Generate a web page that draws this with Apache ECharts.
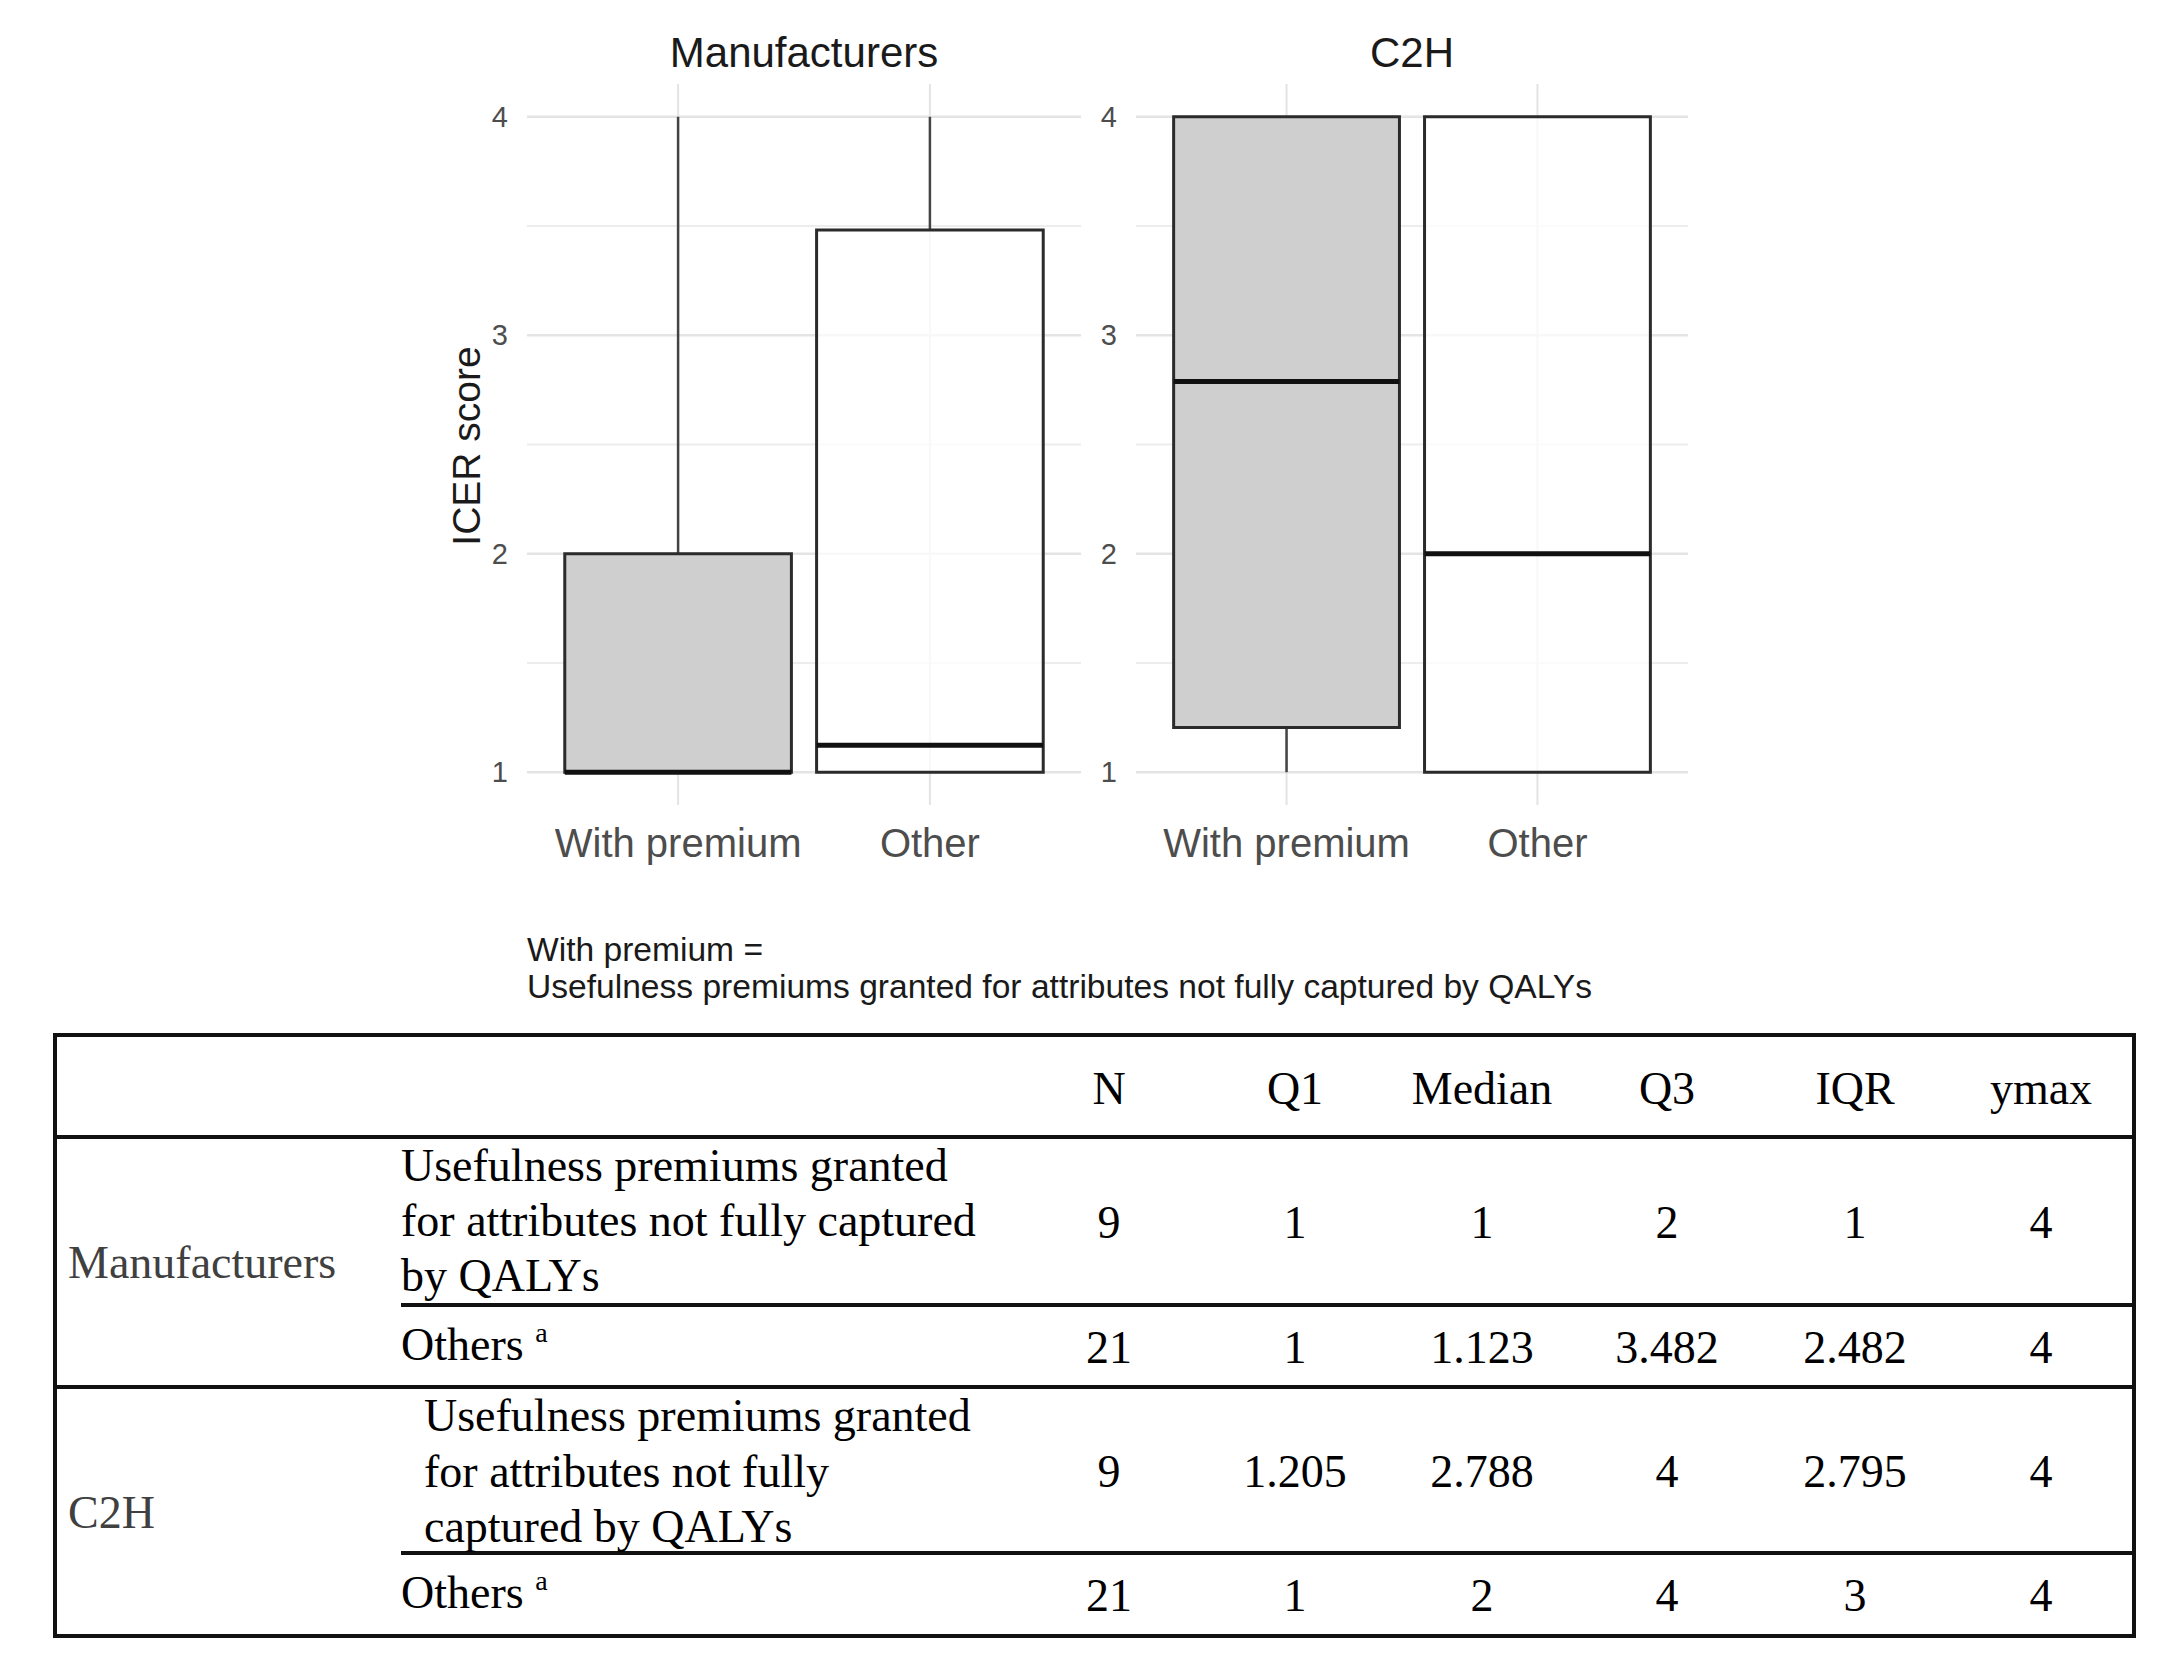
<!DOCTYPE html>
<html><head><meta charset="utf-8">
<script src="https://cdn.jsdelivr.net/npm/echarts@6/dist/echarts.min.js"></script>
<style>
html,body{margin:0;padding:0;background:#fff;}
#chart{position:absolute;left:0;top:0;width:2176px;height:1667px;}
#table{position:absolute;left:0;top:0;width:2176px;height:1667px;font-family:"Liberation Serif","Times New Roman",serif;font-size:46px;color:#000;pointer-events:none;}
.t{position:absolute;white-space:nowrap;line-height:46px;}
.c{transform:translate(-50%,-50%);}
.l{transform:translateY(-50%);}
.hl{position:absolute;height:4px;background:#111;}
.vl{position:absolute;width:4px;background:#111;}
sup{font-size:28px;vertical-align:baseline;position:relative;top:-18px;}
</style></head><body>
<div id="chart"></div><div id="table"></div>
<script>
// ---------- chart data ----------
const categories = ['With premium', 'Other'];
const panelTitles = ['Manufacturers', 'C2H'];
const yTickValues = [1, 2, 3, 4];
const yMinorValues = [1.5, 2.5, 3.5];
const manufLower  = [1, 1];
const manufQ1     = [1, 1];
const manufMedian = [1, 1.123];
const manufQ3     = [2, 3.482];
const manufUpper  = [4, 4];
const c2hLower  = [1, 1];
const c2hQ1     = [1.205, 1];
const c2hMedian = [2.788, 2];
const c2hQ3     = [4, 4];
const c2hUpper  = [4, 4];
const yAxisTitle = 'ICER score';
const captionLines = ['With premium =', 'Usefulness premiums granted for attributes not fully captured by QALYs'];

// ---------- table data ----------
const tableHeader = ['N', 'Q1', 'Median', 'Q3', 'IQR', 'ymax'];
const tableGroups = ['Manufacturers', 'C2H'];
const tableRowLabels = [
  ['Usefulness premiums granted', 'for attributes not fully captured', 'by QALYs'],
  ['Others'],
  ['Usefulness premiums granted', 'for attributes not fully', 'captured by QALYs'],
  ['Others']
];
const tableValues = [
  ['9', '1', '1', '2', '1', '4'],
  ['21', '1', '1.123', '3.482', '2.482', '4'],
  ['9', '1.205', '2.788', '4', '2.795', '4'],
  ['21', '1', '2', '4', '3', '4']
];

// ---------- chart ----------
const FONT = '"Liberation Sans", Arial, sans-serif';
const X_MIN = 0.4, X_MAX = 2.6, Y_MIN = 0.85, Y_MAX = 4.15;
const BOX_W = 0.9;
const fills = ['#cfcfcf', 'rgba(255,255,255,0.75)'];

function boxData(lo, q1, med, q3, hi) {
  return categories.map((c, i) => [i + 1, lo[i], q1[i], med[i], q3[i], hi[i], i]);
}
const panelData = [
  boxData(manufLower, manufQ1, manufMedian, manufQ3, manufUpper),
  boxData(c2hLower, c2hQ1, c2hMedian, c2hQ3, c2hUpper)
];
const gridItems = [];
yTickValues.forEach(v => gridItems.push([0, v, 1]));
yMinorValues.forEach(v => gridItems.push([0, v, 0]));
categories.forEach((c, i) => gridItems.push([1, i + 1, 1]));

function renderGrid(params, api) {
  const orient = api.value(0), v = api.value(1), major = api.value(2);
  let p1, p2;
  if (orient === 0) { p1 = api.coord([X_MIN, v]); p2 = api.coord([X_MAX, v]); }
  else { p1 = api.coord([v, Y_MIN]); p2 = api.coord([v, Y_MAX]); }
  return {type: 'line', shape: {x1: p1[0], y1: p1[1], x2: p2[0], y2: p2[1]},
    style: {stroke: major ? '#e4e4e4' : '#ededed', lineWidth: orient === 1 ? 2 : (major ? 2.5 : 2)}};
}
function renderBox(params, api) {
  const x = api.value(0), lo = api.value(1), q1 = api.value(2), med = api.value(3),
        q3 = api.value(4), hi = api.value(5), fi = api.value(6);
  const half = api.size([BOX_W, 0])[0] / 2;
  const pLo = api.coord([x, lo]), pQ1 = api.coord([x, q1]), pMed = api.coord([x, med]),
        pQ3 = api.coord([x, q3]), pHi = api.coord([x, hi]);
  const ch = [];
  const ws = {stroke: '#444', lineWidth: 2.5};
  if (hi > q3) ch.push({type: 'line', shape: {x1: pQ3[0], y1: pQ3[1], x2: pHi[0], y2: pHi[1]}, style: ws});
  if (lo < q1) ch.push({type: 'line', shape: {x1: pLo[0], y1: pLo[1], x2: pQ1[0], y2: pQ1[1]}, style: ws});
  ch.push({type: 'rect', shape: {x: pQ3[0] - half, y: pQ3[1], width: 2 * half, height: pQ1[1] - pQ3[1]},
    style: {fill: fills[fi], stroke: '#2b2b2b', lineWidth: 3}});
  ch.push({type: 'line', shape: {x1: pMed[0] - half, y1: pMed[1], x2: pMed[0] + half, y2: pMed[1]},
    style: {stroke: '#111', lineWidth: 5}});
  return {type: 'group', children: ch};
}

const grids = [
  {left: 527, top: 84, width: 554, height: 721},
  {left: 1136, top: 84, width: 552, height: 721}
];
const xAxes = grids.map((g, i) => ({
  type: 'value', gridIndex: i, min: X_MIN, max: X_MAX, interval: 0.2,
  axisLine: {show: false}, axisTick: {show: false}, splitLine: {show: false},
  axisLabel: {margin: 18, fontSize: 40, color: '#4d4d4d', fontFamily: FONT,
    formatter: v => { const k = Math.round(v); return Math.abs(v - k) < 1e-6 && k >= 1 && k <= categories.length ? categories[k - 1] : ''; }}
}));
const yAxes = grids.map((g, i) => ({
  type: 'value', gridIndex: i, min: Y_MIN, max: Y_MAX, interval: 0.05,
  axisLine: {show: false}, axisTick: {show: false}, splitLine: {show: false},
  axisLabel: {margin: 19, fontSize: 29, color: '#4d4d4d', fontFamily: FONT,
    formatter: v => { const k = Math.round(v); return Math.abs(v - k) < 1e-6 && yTickValues.indexOf(k) >= 0 ? String(k) : ''; }}
}));
const series = [];
grids.forEach((g, i) => {
  series.push({type: 'custom', xAxisIndex: i, yAxisIndex: i, z: 1, silent: true,
    renderItem: renderGrid, data: gridItems, encode: {x: -1, y: -1}});
  series.push({type: 'custom', xAxisIndex: i, yAxisIndex: i, z: 3, silent: true,
    renderItem: renderBox, data: panelData[i], encode: {x: 0, y: [1, 2, 3, 4, 5]}});
});

const graphics = [
  {type: 'text', x: 804, y: 52, style: {text: panelTitles[0], fontSize: 42, fontFamily: FONT, fill: '#1a1a1a', align: 'center', verticalAlign: 'middle'}},
  {type: 'text', x: 1412, y: 52, style: {text: panelTitles[1], fontSize: 42, fontFamily: FONT, fill: '#1a1a1a', align: 'center', verticalAlign: 'middle'}},
  {type: 'text', x: 466, y: 446, rotation: Math.PI / 2, style: {text: yAxisTitle, fontSize: 39, fontFamily: FONT, fill: '#1a1a1a', align: 'center', verticalAlign: 'middle'}},
  {type: 'text', x: 527, y: 949, style: {text: captionLines[0], fontSize: 33.6, fontFamily: FONT, fill: '#1a1a1a', align: 'left', verticalAlign: 'middle'}},
  {type: 'text', x: 527, y: 986, style: {text: captionLines[1], fontSize: 33.6, fontFamily: FONT, fill: '#1a1a1a', align: 'left', verticalAlign: 'middle'}}
];

const chart = echarts.init(document.getElementById('chart'), null, {renderer: 'svg', width: 2176, height: 1667});
chart.setOption({
  animation: false,
  backgroundColor: '#fff',
  grid: grids,
  xAxis: xAxes,
  yAxis: yAxes,
  series: series,
  graphic: graphics
});

// ---------- table ----------
const T = document.getElementById('table');
function add(html, cls, styles) {
  const d = document.createElement('div');
  d.className = cls; d.innerHTML = html;
  Object.assign(d.style, styles); T.appendChild(d); return d;
}
// borders
add('', 'hl', {left: '53px', top: '1033px', width: '2083px'});
add('', 'hl', {left: '53px', top: '1634px', width: '2083px'});
add('', 'vl', {left: '53px', top: '1033px', height: '605px'});
add('', 'vl', {left: '2132px', top: '1033px', height: '605px'});
add('', 'hl', {left: '53px', top: '1135px', width: '2083px'});
add('', 'hl', {left: '401px', top: '1303px', width: '1735px'});
add('', 'hl', {left: '53px', top: '1385px', width: '2083px'});
add('', 'hl', {left: '401px', top: '1551px', width: '1735px'});

const colX = [1109, 1295, 1482, 1667, 1855, 2041];
const headerY = 1089;
const rowY = [1223, 1348, 1472, 1596];
tableHeader.forEach((h, j) => add(h, 't c', {left: colX[j] + 'px', top: headerY + 'px'}));
tableValues.forEach((row, r) => row.forEach((v, j) => add(v, 't c', {left: colX[j] + 'px', top: rowY[r] + 'px'})));
const groupY = [1263, 1513];
tableGroups.forEach((g, i) => add(g, 't l', {left: '68px', top: groupY[i] + 'px', color: '#404040'}));
// row labels
add(tableRowLabels[0].join('<br>'), 't', {left: '401px', top: '1138px', lineHeight: '55px'});
add(tableRowLabels[1][0] + ' <sup>a</sup>', 't l', {left: '401px', top: rowY[1] + 'px'});
add(tableRowLabels[2].join('<br>'), 't', {left: '424px', top: '1388px', lineHeight: '55.5px'});
add(tableRowLabels[3][0] + ' <sup>a</sup>', 't l', {left: '401px', top: rowY[3] + 'px'});
</script></body></html>
